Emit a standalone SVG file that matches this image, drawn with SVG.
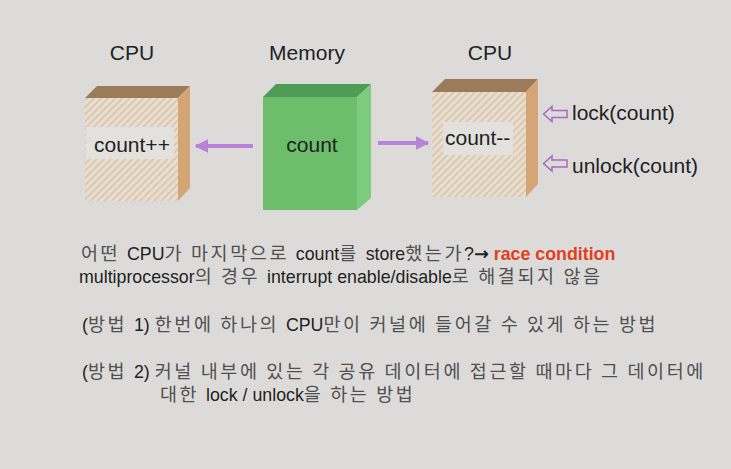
<svg xmlns="http://www.w3.org/2000/svg" width="731" height="469" viewBox="0 0 731 469">
<defs>
<pattern id="hatch" width="5" height="5" patternUnits="userSpaceOnUse" patternTransform="rotate(45)">
<rect width="5" height="5" fill="#e8dfd2"/>
<line x1="1" y1="0" x2="1" y2="5" stroke="#d9c3a6" stroke-width="1.6"/>
</pattern>
<marker id="ah" viewBox="0 0 10 10" refX="9" refY="5" markerWidth="3.4" markerHeight="3.4" orient="auto">
<path d="M0,0 L10,5 L0,10 z" fill="#b882d8"/>
</marker>
<style>
.t{font-family:"Liberation Sans","Noto Sans CJK KR",sans-serif;fill:#222;}
.h{font-size:21px;text-anchor:middle;}
.b{font-size:17.8px;}
.k{font-family:"Noto Sans CJK KR",sans-serif;font-size:18.5px;letter-spacing:2.6px;fill:#505050;}
.cf{fill:url(#hatch);}
.ct{fill:#9c7b5a;}
.cs{fill:#d4a676;}
.band{fill:#e2e1de;}
.conn{stroke:#b882d8;stroke-width:4;fill:none;marker-end:url(#ah);}
.hol{fill:none;stroke:#a66bbf;stroke-width:1.5;}
</style>
</defs>
<rect width="731" height="469" fill="#dcdbda"/>

<g id="cpu1">
<text class="t h" x="132" y="60">CPU</text>
<polygon class="ct" points="85,98 97,86 190,86 178,98"/>
<polygon class="cs" points="178,98 190,86 190,188 178,201"/>
<rect class="cf" x="85" y="98" width="93" height="103"/>
<rect class="band" x="86" y="127" width="88" height="32"/>
<text class="t" x="94" y="152" font-size="21">count++</text>
</g>

<g id="memory">
<text class="t h" x="307" y="60">Memory</text>
<polygon points="263,97 276,84 371,84 357,97" fill="#4f9c57"/>
<polygon points="357,97 371,84 371,198 357,210" fill="#7dcb7d"/>
<rect x="263" y="97" width="94" height="113" fill="#6cbd6c"/>
<text class="t" x="312" y="152" font-size="21" text-anchor="middle">count</text>
</g>

<g id="cpu2">
<text class="t h" x="490" y="60">CPU</text>
<polygon class="ct" points="432,92 445,79 538,79 526,92"/>
<polygon class="cs" points="526,92 538,79 538,184 526,197"/>
<rect class="cf" x="432" y="92" width="94" height="105"/>
<rect class="band" x="443" y="122" width="70" height="33"/>
<text class="t" x="445" y="145" font-size="21">count--</text>
</g>

<g id="connectors">
<line class="conn" x1="253" y1="146" x2="196" y2="146"/>
<line class="conn" x1="378" y1="143" x2="428" y2="143"/>
<polygon class="hol" points="543.5,114 552,106.5 552,110.5 567,110.5 567,117.5 552,117.5 552,121.5"/>
<polygon class="hol" points="543.5,163.5 552,156 552,160 567,160 567,167 552,167 552,171"/>
</g>

<g id="locks">
<text class="t" x="572" y="120" font-size="21">lock(count)</text>
<text class="t" x="572" y="173" font-size="21">unlock(count)</text>
</g>

<g id="notes">
<text class="t b" x="81" y="260"><tspan class="k">어떤 </tspan>CPU<tspan class="k">가 마지막으로 </tspan>count<tspan class="k">를 </tspan>store<tspan class="k">했는가</tspan>?<tspan font-family="DejaVu Sans" font-weight="bold">→</tspan> <tspan fill="#e0401c" font-weight="bold">race condition</tspan></text>
<text class="t b" x="79" y="283">multiprocessor<tspan class="k">의 경우 </tspan>interrupt enable/disable<tspan class="k">로 해결되지 않음</tspan></text>
<text class="t b" x="82" y="331">(<tspan class="k">방법 </tspan>1) <tspan class="k">한번에 하나의 </tspan>CPU<tspan class="k">만이 커널에 들어갈 수 있게 하는 방법</tspan></text>
<text class="t b" x="82" y="378">(<tspan class="k">방법 </tspan>2) <tspan class="k">커널 내부에 있는 각 공유 데이터에 접근할 때마다 그 데이터에</tspan></text>
<text class="t b" x="160" y="401"><tspan class="k">대한 </tspan>lock / unlock<tspan class="k">을 하는 방법</tspan></text>
</g>
</svg>
